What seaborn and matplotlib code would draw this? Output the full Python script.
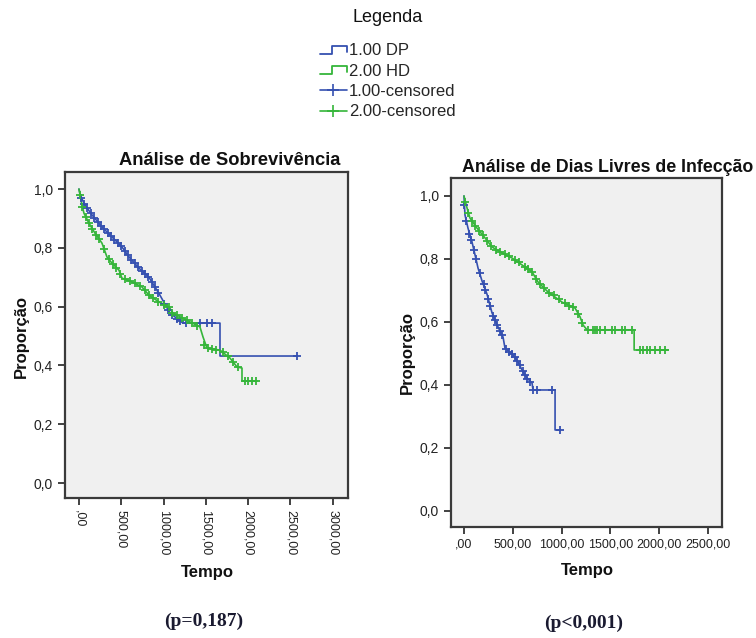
import numpy as np
import pandas as pd
import matplotlib
matplotlib.use("Agg")
import matplotlib.pyplot as plt
from matplotlib.lines import Line2D
from matplotlib.legend_handler import HandlerBase
import seaborn as sns

# ========== Data ==========
# Left panel: survival
surv_dp_t = [0, 20, 71, 154, 272, 390, 508, 603, 709, 827, 898, 957, 1076, 1229, 1667, 1667, 2577]
surv_dp_s = [1.0, 0.975, 0.946, 0.912, 0.871, 0.837, 0.803, 0.765, 0.731, 0.70, 0.667, 0.639, 0.578,
             0.544, 0.544, 0.432, 0.432]
surv_hd_t = [0, 35, 59, 118, 189, 272, 331, 390, 473, 508, 626, 745, 827, 946, 1064, 1111, 1312, 1430,
             1466, 1513, 1667, 1785, 1868, 1927, 1927, 2104]
surv_hd_s = [1.0, 0.946, 0.918, 0.884, 0.85, 0.816, 0.769, 0.748, 0.724, 0.697, 0.684, 0.667, 0.639,
             0.616, 0.599, 0.578, 0.548, 0.531, 0.497, 0.459, 0.452, 0.425, 0.395, 0.391, 0.347, 0.347]

surv_dp_cens_t = [30, 60, 100, 140, 180, 220, 260, 300, 340, 380, 420, 460, 500, 540, 580, 620, 660, 700,
                  740, 780, 820, 860, 900, 940, 1000, 1050, 1100, 1160, 1200, 1260, 1430, 1510, 1570, 2577]
surv_dp_cens_s = [0.97, 0.95, 0.935, 0.917, 0.903, 0.889, 0.875, 0.863, 0.851, 0.84, 0.828, 0.817, 0.806,
                  0.79, 0.774, 0.759, 0.747, 0.734, 0.722, 0.712, 0.702, 0.685, 0.666, 0.647, 0.61, 0.59,
                  0.573, 0.559, 0.55, 0.544, 0.544, 0.544, 0.544, 0.432]
surv_hd_cens_t = [10, 40, 80, 120, 160, 200, 240, 300, 350, 400, 440, 490, 540, 600, 660, 720, 780, 830,
                  880, 940, 1000, 1060, 1100, 1160, 1220, 1280, 1340, 1400, 1480, 1530, 1570, 1620, 1700,
                  1760, 1820, 1880, 1960, 2000, 2040, 2090]
surv_hd_cens_s = [0.98, 0.94, 0.905, 0.883, 0.864, 0.845, 0.829, 0.795, 0.762, 0.745, 0.733, 0.71, 0.693,
                  0.687, 0.679, 0.671, 0.655, 0.638, 0.629, 0.617, 0.604, 0.599, 0.58, 0.571, 0.562, 0.553,
                  0.544, 0.535, 0.47, 0.459, 0.457, 0.454, 0.445, 0.431, 0.412, 0.394, 0.347, 0.347, 0.347,
                  0.347]

# Right panel: infection-free days
inf_dp_t = [0, 10, 41, 82, 113, 144, 185, 236, 287, 349, 400, 420, 502, 553, 594, 646, 697, 707, 933, 933, 984]
inf_dp_s = [1.0, 0.94, 0.898, 0.854, 0.813, 0.771, 0.73, 0.688, 0.629, 0.584, 0.552, 0.517, 0.495, 0.473,
            0.448, 0.422, 0.406, 0.384, 0.384, 0.257, 0.257]
inf_hd_t = [0, 31, 61, 133, 215, 287, 390, 492, 594, 697, 758, 861, 1004, 1138, 1189, 1220, 1261, 1743,
            1743, 2091]
inf_hd_s = [1.0, 0.962, 0.930, 0.898, 0.867, 0.838, 0.819, 0.803, 0.781, 0.759, 0.727, 0.695, 0.663, 0.644,
            0.616, 0.590, 0.575, 0.575, 0.511, 0.511]

inf_dp_cens_t = [5, 25, 55, 75, 100, 125, 160, 200, 220, 250, 270, 300, 320, 340, 370, 390, 430, 460, 490,
                 520, 545, 570, 600, 625, 650, 680, 707, 748, 902, 984]
inf_dp_cens_s = [0.97, 0.92, 0.88, 0.86, 0.83, 0.80, 0.755, 0.72, 0.70, 0.672, 0.65, 0.62, 0.605, 0.59,
                 0.57, 0.558, 0.514, 0.505, 0.498, 0.488, 0.476, 0.462, 0.445, 0.432, 0.42, 0.41, 0.384,
                 0.384, 0.384, 0.257]
inf_hd_cens_t = [15, 45, 80, 110, 150, 190, 240, 280, 330, 370, 420, 460, 520, 560, 620, 660, 700, 740, 780,
                 820, 870, 920, 970, 1030, 1080, 1120, 1170, 1210, 1271, 1322, 1343, 1363, 1394, 1445, 1517,
                 1548, 1620, 1650, 1722, 1804, 1835, 1876, 1906, 1958, 2009, 2060]
inf_hd_cens_s = [0.98, 0.945, 0.92, 0.905, 0.89, 0.876, 0.857, 0.84, 0.83, 0.822, 0.815, 0.808, 0.797,
                 0.789, 0.775, 0.767, 0.757, 0.736, 0.72, 0.708, 0.692, 0.684, 0.672, 0.66, 0.652, 0.646,
                 0.626, 0.598] + [0.575] * 11 + [0.511] * 7

y_ticks = [0.0, 0.2, 0.4, 0.6, 0.8, 1.0]
y_ticklabels = ["0,0", "0,2", "0,4", "0,6", "0,8", "1,0"]
x_ticks_left = [0, 500, 1000, 1500, 2000, 2500, 3000]
x_ticklabels_left = [",00", "500,00", "1000,00", "1500,00", "2000,00", "2500,00", "3000,00"]
x_ticks_right = [0, 500, 1000, 1500, 2000, 2500]
x_ticklabels_right = [",00", "500,00", "1000,00", "1500,00", "2000,00", "2500,00"]

legend_labels = ["1.00 DP", "2.00 HD", "1.00-censored", "2.00-censored"]

BLUE = "#3550b0"
GREEN = "#35b53a"

# ========== Style ==========
sns.set_style("white")
plt.rcParams["font.family"] = ["Liberation Sans", "DejaVu Sans"]

fig = plt.figure(figsize=(7.56, 6.38), dpi=100)
ax1 = fig.add_axes([65 / 756, 1 - 498 / 638, 283 / 756, 326 / 638])
ax2 = fig.add_axes([451 / 756, 1 - 527 / 638, 271 / 756, 349 / 638])


def draw_panel(ax, dp_t, dp_s, hd_t, hd_s, dpc_t, dpc_s, hdc_t, hdc_s):
    ax.set_facecolor("#f0f0f0")
    sns.lineplot(x=dp_t, y=dp_s, ax=ax, color=BLUE, lw=1.2, sort=False, estimator=None)
    sns.lineplot(x=hd_t, y=hd_s, ax=ax, color=GREEN, lw=1.2, sort=False, estimator=None)
    sns.scatterplot(x=dpc_t, y=dpc_s, ax=ax, color=BLUE, marker="+", s=30, linewidth=1.3, zorder=3)
    sns.scatterplot(x=hdc_t, y=hdc_s, ax=ax, color=GREEN, marker="+", s=30, linewidth=1.3, zorder=3)
    for side in ["left", "right", "top", "bottom"]:
        ax.spines[side].set_visible(True)
        ax.spines[side].set_color("#3a3a3a")
        ax.spines[side].set_linewidth(1.6)
    ax.tick_params(axis="both", direction="out", length=5, width=1.3, color="#333333",
                   labelsize=9, labelcolor="#222222", left=True, bottom=True)
    ax.tick_params(axis="y", labelsize=10)
    ax.set_yticks(y_ticks)
    ax.set_yticklabels(y_ticklabels)
    ax.set_xlabel("")
    ax.set_ylabel("")


# left panel
draw_panel(ax1, surv_dp_t, surv_dp_s, surv_hd_t, surv_hd_s,
           surv_dp_cens_t, surv_dp_cens_s, surv_hd_cens_t, surv_hd_cens_s)
ax1.set_xlim(-165, 3180)
ax1.set_ylim(-0.051, 1.058)
ax1.set_xticks(x_ticks_left)
ax1.set_xticklabels(x_ticklabels_left, rotation=270, va="top", ha="center")

# right panel
draw_panel(ax2, inf_dp_t, inf_dp_s, inf_hd_t, inf_hd_s,
           inf_dp_cens_t, inf_dp_cens_s, inf_hd_cens_t, inf_hd_cens_s)
ax2.set_xlim(-133, 2643)
ax2.set_ylim(-0.051, 1.057)
ax2.set_xticks(x_ticks_right)
ax2.set_xticklabels(x_ticklabels_right)

# titles / labels
fig.text(230 / 756, 1 - 161 / 638, "Análise de Sobrevivência", ha="center", va="center",
         fontsize=13.2, fontweight="bold", color="#111111")
fig.text(608 / 756, 1 - 167 / 638, "Análise de Dias Livres de Infecção", ha="center", va="center",
         fontsize=12.8, fontweight="bold", color="#111111")
fig.text(21 / 756, 1 - 336 / 638, "Proporção", rotation=90, ha="center", va="center",
         fontsize=12, fontweight="bold", color="#111111")
fig.text(407 / 756, 1 - 353 / 638, "Proporção", rotation=90, ha="center", va="center",
         fontsize=12, fontweight="bold", color="#111111")
fig.text(207 / 756, 1 - 573 / 638, "Tempo", ha="center", va="center",
         fontsize=12, fontweight="bold", color="#111111")
fig.text(587 / 756, 1 - 571 / 638, "Tempo", ha="center", va="center",
         fontsize=12, fontweight="bold", color="#111111")
fig.text(204 / 756, 1 - 621 / 638, "(p=0,187)", ha="center", va="center", family="Liberation Serif",
         fontsize=14, fontweight="bold", color="#1a1a30")
fig.text(584 / 756, 1 - 623 / 638, "(p<0,001)", ha="center", va="center", family="Liberation Serif",
         fontsize=14, fontweight="bold", color="#1a1a30")


# ========== Legend ==========
class StepHandler(HandlerBase):
    def create_artists(self, legend, orig_handle, xdescent, ydescent, width, height, fontsize, trans):
        x0, y0 = -xdescent, -ydescent
        xs = [x0, x0 + 0.45 * width, x0 + 0.45 * width, x0 + width, x0 + width]
        ys = [y0 + 0.1 * height, y0 + 0.1 * height, y0 + 0.8 * height, y0 + 0.8 * height, y0 + 0.3 * height]
        line = Line2D(xs, ys, color=orig_handle.get_color(), lw=1.3)
        line.set_transform(trans)
        return [line]


h_dp = Line2D([], [], color=BLUE)
h_hd = Line2D([], [], color=GREEN)
h_dpc = Line2D([], [], color=BLUE, lw=1.2, marker="+", markersize=9, markeredgewidth=1.2)
h_hdc = Line2D([], [], color=GREEN, lw=1.2, marker="+", markersize=9, markeredgewidth=1.2)
fig.legend([h_dp, h_hd, h_dpc, h_hdc], legend_labels, loc="upper left",
           bbox_to_anchor=(320 / 756, 1 - 43 / 638), frameon=False, fontsize=12,
           handlelength=1.6, handletextpad=0.15, labelspacing=0.33, borderpad=0, borderaxespad=0,
           handler_map={h_dp: StepHandler(), h_hd: StepHandler()})
fig.text(388 / 756, 1 - 18 / 638, "Legenda", ha="center", va="center", fontsize=13, color="#111111")

fig.savefig("out.png", dpi=100, facecolor="white")
